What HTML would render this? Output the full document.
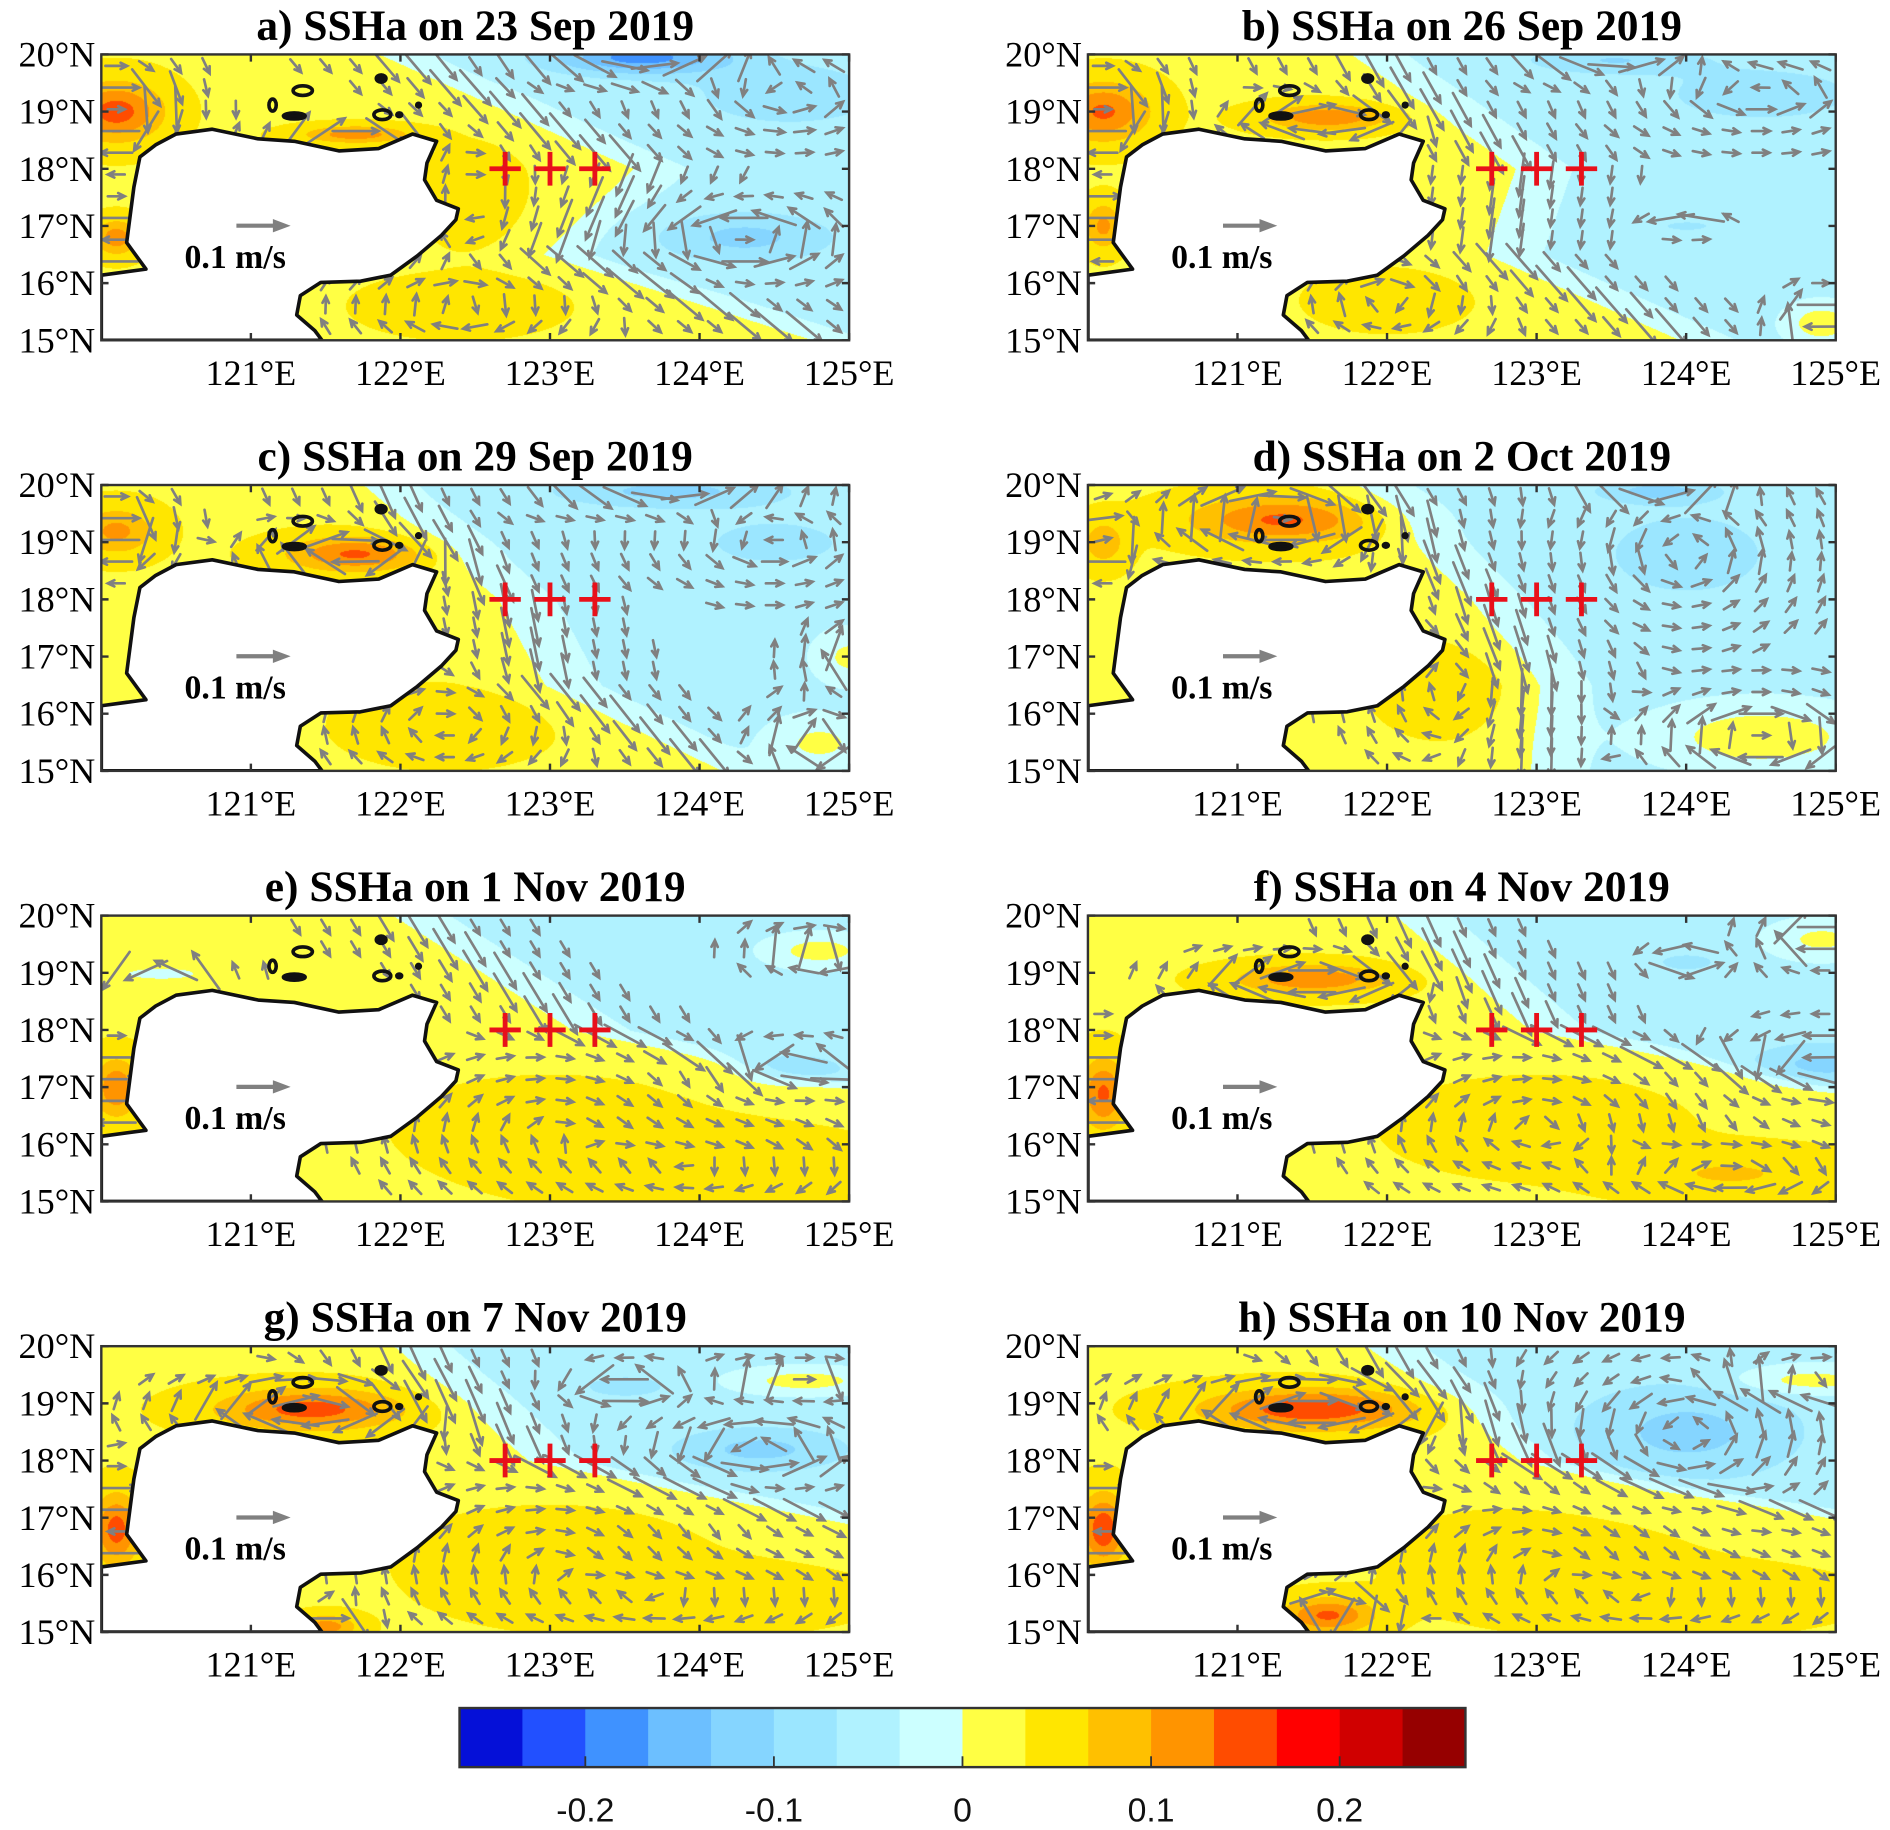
<!DOCTYPE html>
<html><head><meta charset="utf-8">
<style>
html,body{margin:0;padding:0;background:#fff;}
#wrap{position:relative;width:1890px;height:1830px;overflow:hidden;}
#cv{position:absolute;left:0;top:0;}
#svg{position:absolute;left:0;top:0;}
</style></head>
<body>
<div id="wrap">
<canvas id="cv" width="1890" height="1830"></canvas>
<svg id="svg" width="1890" height="1830" viewBox="0 0 1567 1517" xmlns="http://www.w3.org/2000/svg"></svg>
</div>
<script>
// ---- data ----
const panelTitles = ["a) SSHa on 23 Sep 2019","b) SSHa on 26 Sep 2019","c) SSHa on 29 Sep 2019","d) SSHa on 2 Oct 2019","e) SSHa on 1 Nov 2019","f) SSHa on 4 Nov 2019","g) SSHa on 7 Nov 2019","h) SSHa on 10 Nov 2019"];
const frontLats = [15,16.5,18,20];
const frontLons = [
 [124.8,123.0,123.6,121.9],
 [124.0,122.7,122.9,121.8],
 [124.2,123.0,122.7,121.8],
 [123.0,123.0,122.6,121.8],
 [127,126,123.2,122.0],
 [127,126,123.0,122.1],
 [127,125.8,122.9,122.0],
 [127,126,123.0,121.9]
];
// bumps: lon, lat, rlon, rlat, amplitude (m)
const bumps = [
 [[123.6,19.95,0.6,0.3,-0.14],[124.3,16.8,0.6,0.45,-0.07],[124.6,19.3,0.7,0.6,-0.05],[120.1,19.0,0.3,0.5,0.12],[121.7,18.6,0.35,0.15,0.09],[120.1,16.8,0.15,0.3,0.09],[122.4,15.6,0.5,0.4,0.035],[122.5,17.5,0.3,0.8,0.02]],
 [[121.6,18.9,0.4,0.22,0.10],[120.1,19.0,0.3,0.5,0.11],[123.5,19.9,0.6,0.25,-0.06],[124.5,19.3,0.7,0.5,-0.05],[124.0,17.0,0.2,0.1,-0.04],[124.9,15.3,0.2,0.3,0.07],[120.1,17.0,0.12,0.4,0.08],[122.0,15.7,0.4,0.4,0.03]],
 [[121.7,18.8,0.45,0.3,0.11],[120.1,19.2,0.25,0.4,0.08],[123.8,19.9,0.8,0.3,-0.07],[124.5,19.0,0.6,0.5,-0.04],[125.0,17.0,0.2,0.4,0.05],[124.8,15.5,0.3,0.4,0.05],[122.3,15.8,0.6,0.6,0.02]],
 [[124.5,15.6,0.6,0.5,0.07],[121.3,19.4,0.6,0.4,0.11],[123.8,19.9,0.4,0.2,-0.07],[124.0,18.8,0.6,0.8,-0.05],[120.1,19.0,0.15,0.4,0.06],[122.5,16.5,0.5,0.8,0.02]],
 [[124.6,17.3,0.4,0.3,-0.06],[120.4,19.0,0.3,0.12,-0.05],[124.8,19.4,0.3,0.25,0.06],[120.1,17.0,0.15,0.5,0.10],[124.0,15.6,1.0,0.6,0.03],[123.0,16.3,0.8,0.7,0.02]],
 [[124.9,17.4,0.5,0.4,-0.07],[124.0,19.2,0.2,0.15,-0.05],[124.9,19.6,0.3,0.3,0.05],[121.5,18.9,0.5,0.25,0.10],[120.1,16.9,0.15,0.6,0.11],[124.3,15.5,0.7,0.4,0.04],[123.0,16.3,0.8,0.7,0.02]],
 [[124.4,18.2,0.6,0.4,-0.07],[123.5,19.3,0.3,0.2,-0.05],[124.7,19.4,0.4,0.2,0.06],[121.4,18.9,0.6,0.35,0.12],[120.1,16.8,0.15,0.6,0.12],[121.5,15.1,0.2,0.2,0.09],[123.8,15.6,1.0,0.5,0.03],[123.0,16.3,0.8,0.7,0.02]],
 [[124.0,18.5,0.8,0.9,-0.07],[124.8,19.4,0.5,0.25,0.06],[121.5,18.9,0.7,0.35,0.13],[120.1,16.8,0.15,0.6,0.13],[121.6,15.3,0.3,0.3,0.11],[123.8,15.6,1.0,0.5,0.03],[123.0,16.3,0.8,0.7,0.02]]
];
const crossLons = [122.7,123.0,123.3];
const crossLat = 18;
const lonTicks = [121,122,123,124,125];
const latTicks = [15,16,17,18,19,20];
const cbTicks = [-0.2,-0.1,0,0.1,0.2];
const cbColors = ['#0510d8','#2250ff','#3f92ff','#6cbfff','#85d5ff','#9be6ff','#b0f2ff','#ccffff','#ffff44','#ffe600','#ffc000','#ff9400','#ff4c00','#ff0000','#d00000','#960000'];
const cbMin = -0.2667, cbMax = 0.2667;

// ---- layout (display units, viewBox 1567x1517) ----
const colX = [84,902], rowY = [45,402,759,1116], PW = 620, PH = 237;
const LON0=120, LON1=125, LAT0=15, LAT1=20;
const land = [[0,183],[37,178],[21,156],[27,110],[32,85],[45,75],[62,66],[92,62],[130,70],[160,72],[197,80],[230,78],[258,66],[278,72],[270,90],[268,104],[278,121],[296,128],[294,137],[282,150],[262,167],[240,183],[215,188],[182,189],[165,200],[162,216],[177,229],[183,237],[0,237]];

function frontLon(p,lat){
  const L=frontLons[p];
  if(lat<=frontLats[0]) return L[0];
  for(let i=0;i<frontLats.length-1;i++){
    if(lat<=frontLats[i+1]){const t=(lat-frontLats[i])/(frontLats[i+1]-frontLats[i]);return L[i]+t*(L[i+1]-L[i]);}
  }
  return L[L.length-1];
}
function field(p,lon,lat){
  let v=-0.005+0.035*Math.tanh((frontLon(p,lat)-lon)/0.3);
  for(const b of bumps[p]){const dx=(lon-b[0])/b[2],dy=(lat-b[1])/b[3];v+=b[4]*Math.exp(-(dx*dx+dy*dy));}
  return v;
}
function colorIdx(v){let k=Math.floor((v-cbMin)/((cbMax-cbMin)/16));return Math.max(0,Math.min(15,k));}
function hex(c){return [parseInt(c.substr(1,2),16),parseInt(c.substr(3,2),16),parseInt(c.substr(5,2),16)];}
const rgb=cbColors.map(hex);
const xS=(ox,lon)=>ox+(lon-LON0)/(LON1-LON0)*PW;
const yS=(oy,lat)=>oy+(LAT1-lat)/(LAT1-LAT0)*PH;

// ---- canvas fields ----
const cv=document.getElementById('cv'),ctx=cv.getContext('2d');
const sx=1890/1567, sy=1830/1517;
for(let p=0;p<8;p++){
  const ox=colX[p%2], oy=rowY[Math.floor(p/2)];
  const x0=Math.round(ox*sx), y0=Math.round(oy*sy), w=Math.round(PW*sx), h=Math.round(PH*sy);
  const img=ctx.createImageData(w,h);
  for(let j=0;j<h;j++){const lat=LAT1-(j/h)*(LAT1-LAT0);
    for(let i=0;i<w;i++){const lon=LON0+(i/w)*(LON1-LON0);
      const c=rgb[colorIdx(field(p,lon,lat))];const k=(j*w+i)*4;
      img.data[k]=c[0];img.data[k+1]=c[1];img.data[k+2]=c[2];img.data[k+3]=255;}}
  ctx.putImageData(img,x0,y0);
}

// ---- svg ----
const NS="http://www.w3.org/2000/svg", svg=document.getElementById('svg');
function mk(tag,attrs,parent){const e=document.createElementNS(NS,tag);for(const k in attrs)e.setAttribute(k,attrs[k]);(parent||svg).appendChild(e);return e;}
function inPoly(x,y,poly){let c=false;for(let i=0,j=poly.length-1;i<poly.length;j=i++){const xi=poly[i][0],yi=poly[i][1],xj=poly[j][0],yj=poly[j][1];if(((yi>y)!=(yj>y))&&(x<(xj-xi)*(y-yi)/(yj-yi)+xi))c=!c;}return c;}
const defs=mk('defs',{});

for(let p=0;p<8;p++){
  const ox=colX[p%2], oy=rowY[Math.floor(p/2)];
  const cp=mk('clipPath',{id:'clip'+p},defs);
  mk('rect',{x:ox,y:oy,width:PW,height:PH},cp);
  const g=mk('g',{});
  
  
  const inner=mk('g',{'clip-path':'url(#clip'+p+')'},g);
  // arrows
  const ag=mk('g',{stroke:'#808080','stroke-width':2.2,fill:'none','stroke-linecap':'round'},inner);
  
  
  for(let lat=19.8;lat>15.05;lat-=0.38){
    for(let lon=120.1;lon<125;lon+=0.2){
      const px=xS(ox,lon)-ox, py=yS(oy,lat)-oy;
      if(inPoly(px,py,land)) continue;
      const d=0.05;
      const dEx=(field(p,lon+d,lat)-field(p,lon-d,lat))/(2*d);
      const dEy=(field(p,lon,lat+d)-field(p,lon,lat-d))/(2*d);
      let u=-dEy*300, v=dEx*300;
      let L=Math.hypot(u,v); if(L<0.5) continue;
      let s=1; if(L>38) s=38/L; if(L<14) s=14/L; u*=s; v*=s; L*=s;
      const x1=xS(ox,lon)-u/2, y1=yS(oy,lat)+v/2, x2=x1+u, y2=y1-v;
      const ang=Math.atan2(-v,u), hl=6;
      const a=mk('path',{d:`M${x1.toFixed(1)},${y1.toFixed(1)}L${x2.toFixed(1)},${y2.toFixed(1)}M${(x2-hl*Math.cos(ang-0.45)).toFixed(1)},${(y2-hl*Math.sin(ang-0.45)).toFixed(1)}L${x2.toFixed(1)},${y2.toFixed(1)}L${(x2-hl*Math.cos(ang+0.45)).toFixed(1)},${(y2-hl*Math.sin(ang+0.45)).toFixed(1)}`},ag);
      
      
    }
  }
  // land
  const lp=mk('polygon',{points:land.map(q=>(q[0]+ox)+','+(q[1]+oy)).join(' '),fill:'#fff',stroke:'#111','stroke-width':3,'stroke-linejoin':'round'},inner);
  
  
  // islands
  const isl=[[167,30,8,4,false],[142,42,3,5,false],[160,51,9,2.5,true],[233,50,7,4,false],[232,20,4,3,true],[263,42,1.5,1.5,true],[247,50,2,1.5,true]];
  for(const it of isl){const e=mk('ellipse',{cx:ox+it[0],cy:oy+it[1],rx:it[2],ry:it[3],fill:it[4]?'#111':'none',stroke:'#111','stroke-width':3},inner);
    
    }
  // reference arrow
  const ra=mk('path',{d:`M${ox+112},${oy+142}L${ox+146},${oy+142}M${ox+144},${oy+139}L${ox+152},${oy+142}L${ox+144},${oy+145}Z`,stroke:'#808080','stroke-width':3.5,fill:'#808080'},g);
  
  
  const rt=mk('text',{x:ox+111,y:oy+177,'text-anchor':'middle','font-family':'"Liberation Serif",serif','font-weight':'bold','font-size':28,fill:'#000'},g);
  rt.textContent='0.1 m/s';
  
  
  // crosses
  for(const cl of crossLons){const cx=xS(ox,cl), cy=yS(oy,crossLat);
    const c=mk('path',{d:`M${cx-13},${cy}L${cx+13},${cy}M${cx},${cy-14}L${cx},${cy+14}`,stroke:'#e8101a','stroke-width':4},g);
    
    }
  // frame
  const fr=mk('rect',{x:ox,y:oy,width:PW,height:PH,fill:'none',stroke:'#333','stroke-width':2},g);
  
  
  for(const t of lonTicks){const x=xS(ox,t);
    mk('path',{d:`M${x},${oy}v6M${x},${oy+PH}v-6`,stroke:'#333','stroke-width':2},g);
    const tx=mk('text',{x:x,y:oy+PH+37,'text-anchor':'middle','font-family':'"Liberation Serif",serif','font-size':30,fill:'#000'},g);
    tx.textContent=t+'°E';
    
    }
  for(const t of latTicks){const y=yS(oy,t);
    mk('path',{d:`M${ox},${y}h6M${ox+PW},${y}h-6`,stroke:'#333','stroke-width':2},g);
    const ty=mk('text',{x:ox-5,y:y+10,'text-anchor':'end','font-family':'"Liberation Serif",serif','font-size':30,fill:'#000'},g);
    ty.textContent=t+'°N';
    
    }
  const tt=mk('text',{x:ox+310,y:oy-12,'text-anchor':'middle','font-family':'"Liberation Serif",serif','font-weight':'bold','font-size':36,fill:'#000'},g);
  tt.textContent=panelTitles[p];
  
  
}
// colorbar
const CBX=381, CBW=834, CBY=1416, CBH=49;
const cb=mk('g',{});


for(let i=0;i<16;i++){const r=mk('rect',{x:CBX+i*CBW/16,y:CBY,width:CBW/16+0.5,height:CBH,fill:cbColors[i]},cb);
  
  }
mk('rect',{x:CBX,y:CBY,width:CBW,height:CBH,fill:'none',stroke:'#333','stroke-width':2},cb);
for(const t of cbTicks){const x=CBX+(t-cbMin)/(cbMax-cbMin)*CBW;
  mk('path',{d:`M${x},${CBY+CBH}v-9`,stroke:'#333','stroke-width':1.5},cb);
  const l=mk('text',{x:x,y:CBY+CBH+45,'text-anchor':'middle','font-family':'"Liberation Sans",sans-serif','font-size':28,fill:'#111'},cb);
  l.textContent=(t===0?'0':String(t));
  
  }
</script>
</body></html>
